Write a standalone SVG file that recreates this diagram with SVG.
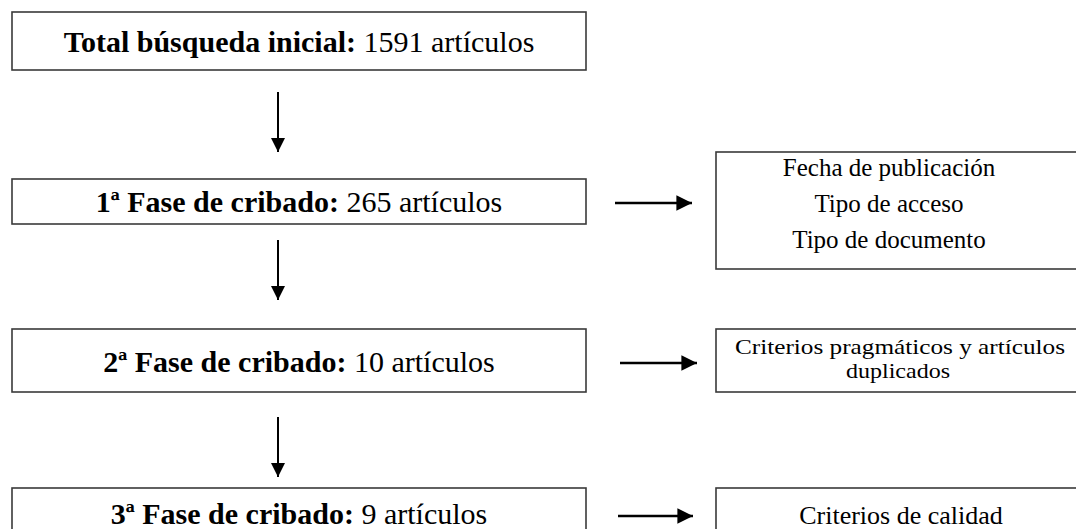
<svg xmlns="http://www.w3.org/2000/svg" width="1076" height="529" viewBox="0 0 1076 529">
<defs>
<marker id="ah" viewBox="0 0 10 10" refX="10" refY="5" markerWidth="6" markerHeight="6" markerUnits="strokeWidth" orient="auto">
<path d="M0,0 L10,5 L0,10 z" fill="#000"/>
</marker>
<marker id="ahv" viewBox="0 0 10 10" refX="10" refY="5" markerWidth="7" markerHeight="7" markerUnits="strokeWidth" orient="auto">
<path d="M0,0 L10,5 L0,10 z" fill="#000"/>
</marker>
<style>
.box{fill:#fff;stroke:#3a3a3a;stroke-width:1.6}
.t{font-family:"Liberation Serif","Times New Roman",serif;fill:#000}
.big{font-size:30px}
.sm{font-size:25px}
.xs{font-size:22px}
.b{font-weight:bold}
.v{stroke:#000;stroke-width:2;fill:none;marker-end:url(#ahv)}
.h{stroke:#000;stroke-width:2.6;fill:none;marker-end:url(#ah)}
</style>
</defs>
<rect width="1076" height="529" fill="#fff"/>
<g id="n-total">
<rect class="box" x="12" y="12" width="574" height="58"/>
<text class="t big" x="299" y="52" text-anchor="middle"><tspan class="b">Total búsqueda inicial:</tspan> 1591 artículos</text>
</g>
<g id="n-fase1">
<rect class="box" x="12" y="179" width="574" height="45"/>
<text class="t big" x="299" y="212" text-anchor="middle"><tspan class="b">1ª Fase de cribado:</tspan> 265 artículos</text>
</g>
<g id="n-fase2">
<rect class="box" x="12" y="329" width="574" height="63"/>
<text class="t big" x="299" y="372" text-anchor="middle"><tspan class="b">2ª Fase de cribado:</tspan> 10 artículos</text>
</g>
<g id="n-fase3">
<rect class="box" x="12" y="488" width="574" height="50"/>
<text class="t big" x="299" y="524" text-anchor="middle"><tspan class="b">3ª Fase de cribado:</tspan> 9 artículos</text>
</g>
<g id="n-crit1">
<rect class="box" x="716" y="152" width="370" height="117"/>
<text class="t sm" x="889" y="176" text-anchor="middle">Fecha de publicación</text>
<text class="t sm" x="889" y="212" text-anchor="middle">Tipo de acceso</text>
<text class="t sm" x="889" y="248" text-anchor="middle">Tipo de documento</text>
</g>
<g id="n-crit2">
<rect class="box" x="716" y="329" width="370" height="63"/>
<text class="t xs" x="900" y="354" text-anchor="middle" textLength="330" lengthAdjust="spacingAndGlyphs">Criterios pragmáticos y artículos</text>
<text class="t xs" x="898" y="378" text-anchor="middle" textLength="104" lengthAdjust="spacingAndGlyphs">duplicados</text>
</g>
<g id="n-crit3">
<rect class="box" x="716" y="488" width="370" height="50"/>
<text class="t" font-size="26" x="901" y="524" text-anchor="middle">Criterios de calidad</text>
</g>
<g id="connectors">
<line class="v" x1="278" y1="92" x2="278" y2="152"/>
<line class="v" x1="278" y1="240" x2="278" y2="300"/>
<line class="v" x1="278" y1="417" x2="278" y2="477"/>
<line class="h" x1="615" y1="203" x2="692" y2="203"/>
<line class="h" x1="620" y1="363" x2="697" y2="363"/>
<line class="h" x1="618" y1="516" x2="693" y2="516"/>
</g>
</svg>
